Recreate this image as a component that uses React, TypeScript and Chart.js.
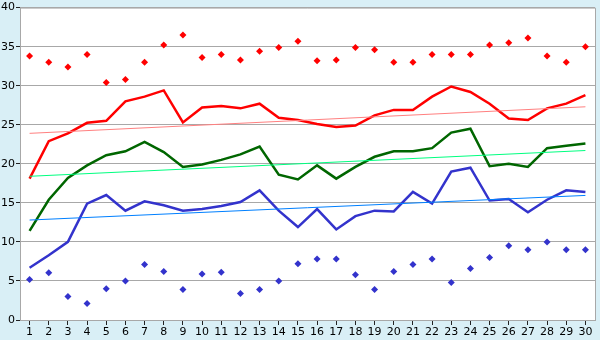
import React, { useEffect, useRef } from "react";
import { Chart, registerables } from "chart.js";

Chart.register(...registerables);

const days = ["1","2","3","4","5","6","7","8","9","10","11","12","13","14","15","16","17","18","19","20","21","22","23","24","25","26","27","28","29","30"];

const redLine = [18.1, 22.9, 23.9, 25.25, 25.5, 28.0, 28.6, 29.4, 25.3, 27.2, 27.4, 27.1, 27.7, 25.9, 25.6, 25.1, 24.7, 24.9, 26.2, 26.9, 26.9, 28.6, 29.9, 29.2, 27.7, 25.8, 25.6, 27.1, 27.7, 28.8];
const greenLine = [11.4, 15.4, 18.2, 19.8, 21.1, 21.6, 22.8, 21.5, 19.6, 19.9, 20.5, 21.2, 22.2, 18.6, 18.0, 19.8, 18.1, 19.6, 20.9, 21.6, 21.6, 22.0, 24.0, 24.5, 19.7, 20.0, 19.6, 22.0, 22.3, 22.6];
const blueLine = [6.7, 8.3, 10.0, 14.9, 16.0, 14.0, 15.2, 14.7, 14.0, 14.2, 14.6, 15.1, 16.6, 14.0, 11.9, 14.2, 11.6, 13.3, 14.0, 13.9, 16.4, 14.9, 19.0, 19.5, 15.3, 15.5, 13.8, 15.4, 16.6, 16.4];
const maxPoints = [33.8, 33.0, 32.4, 34.0, 30.4, 30.8, 33.0, 35.2, 36.5, 33.6, 34.0, 33.3, 34.4, 34.9, 35.7, 33.2, 33.3, 34.9, 34.6, 33.0, 33.0, 34.0, 34.0, 34.0, 35.2, 35.5, 36.1, 33.8, 33.0, 35.0];
const minPoints = [5.2, 6.05, 3.0, 2.1, 4.0, 5.0, 7.1, 6.2, 3.9, 5.9, 6.1, 3.4, 3.9, 5.0, 7.2, 7.8, 7.8, 5.8, 3.9, 6.2, 7.1, 7.8, 4.8, 6.6, 8.0, 9.5, 9.0, 10.0, 9.0, 9.0];
const redTrend = [23.9, 27.3];
const greenTrend = [18.4, 21.7];
const blueTrend = [12.8, 15.95];
const yTicks = [0, 5, 10, 15, 20, 25, 30, 35, 40];

const trendData = (t: number[]) => [
  { x: days[0], y: t[0] },
  { x: days[days.length - 1], y: t[1] },
];

const bgPlugin = {
  id: "bgPlugin",
  beforeDraw(chart: any) {
    const { ctx, chartArea } = chart;
    ctx.save();
    ctx.fillStyle = "#d9eff6";
    ctx.fillRect(0, 0, chart.width, chart.height);
    ctx.fillStyle = "#ffffff";
    ctx.fillRect(chartArea.left, chartArea.top, chartArea.right - chartArea.left, chartArea.bottom - chartArea.top);
    ctx.restore();
  },
  afterDraw(chart: any) {
    const { ctx, chartArea } = chart;
    ctx.save();
    ctx.strokeStyle = "#a8a8a8";
    ctx.lineWidth = 1;
    ctx.beginPath();
    ctx.moveTo(chartArea.left, chartArea.top + 0.5);
    ctx.lineTo(chartArea.right + 0.5, chartArea.top + 0.5);
    ctx.lineTo(chartArea.right + 0.5, chartArea.bottom);
    ctx.stroke();
    ctx.restore();
  },
};

export default function App() {
  const ref = useRef<HTMLCanvasElement>(null);
  useEffect(() => {
    if (!ref.current) return;
    const font = { family: "'DejaVu Sans', Verdana, sans-serif", size: 11 };
    const chart = new Chart(ref.current, {
      type: "line",
      data: {
        labels: days,
        datasets: [
          { data: trendData(redTrend) as any, borderColor: "#ff8080", borderWidth: 1, pointRadius: 0 },
          { data: trendData(greenTrend) as any, borderColor: "#00ff80", borderWidth: 1, pointRadius: 0 },
          { data: trendData(blueTrend) as any, borderColor: "#0080ff", borderWidth: 1, pointRadius: 0 },
          { data: redLine, borderColor: "#ff0000", borderWidth: 2.5, pointRadius: 0 },
          { data: greenLine, borderColor: "#006600", borderWidth: 2.5, pointRadius: 0 },
          { data: blueLine, borderColor: "#3333cc", borderWidth: 2.5, pointRadius: 0 },
          { data: maxPoints, showLine: false, pointStyle: "rectRot", pointRadius: 3.5, backgroundColor: "#ff0000", borderColor: "#ff0000", borderWidth: 0 },
          { data: minPoints, showLine: false, pointStyle: "rectRot", pointRadius: 3.5, backgroundColor: "#3333cc", borderColor: "#3333cc", borderWidth: 0 },
        ],
      },
      options: {
        animation: false,
        responsive: false,
        maintainAspectRatio: false,
        layout: { padding: { left: 0, right: 5, top: 5, bottom: 0 } },
        plugins: { legend: { display: false }, tooltip: { enabled: false } },
        elements: { line: { tension: 0 } },
        scales: {
          x: {
            type: "category",
            offset: true,
            grid: { drawOnChartArea: false, drawTicks: true, tickLength: 5, tickColor: "#222", offset: false },
            border: { color: "#a8a8a8" },
            ticks: { color: "#000", font, padding: 1, maxRotation: 0, autoSkip: false },
            afterFit: (s: any) => { s.height = 20; },
          },
          y: {
            min: 0,
            max: 40,
            afterBuildTicks: (s: any) => { s.ticks = yTicks.map((v) => ({ value: v })); },
            grid: { color: "#a8a8a8", drawTicks: true, tickLength: 4, tickColor: "#222" },
            border: { color: "#a8a8a8" },
            ticks: { color: "#000", font, padding: 1 },
            afterFit: (s: any) => { s.width = 20; },
          },
        },
      },
      plugins: [bgPlugin],
    });
    return () => chart.destroy();
  }, []);
  return (
    <div style={{ position: "fixed", left: 0, top: 0, width: 600, height: 340, background: "#d9eff6" }}>
      <canvas ref={ref} width={600} height={340} style={{ display: "block", width: 600, height: 340 }} />
    </div>
  );
}
